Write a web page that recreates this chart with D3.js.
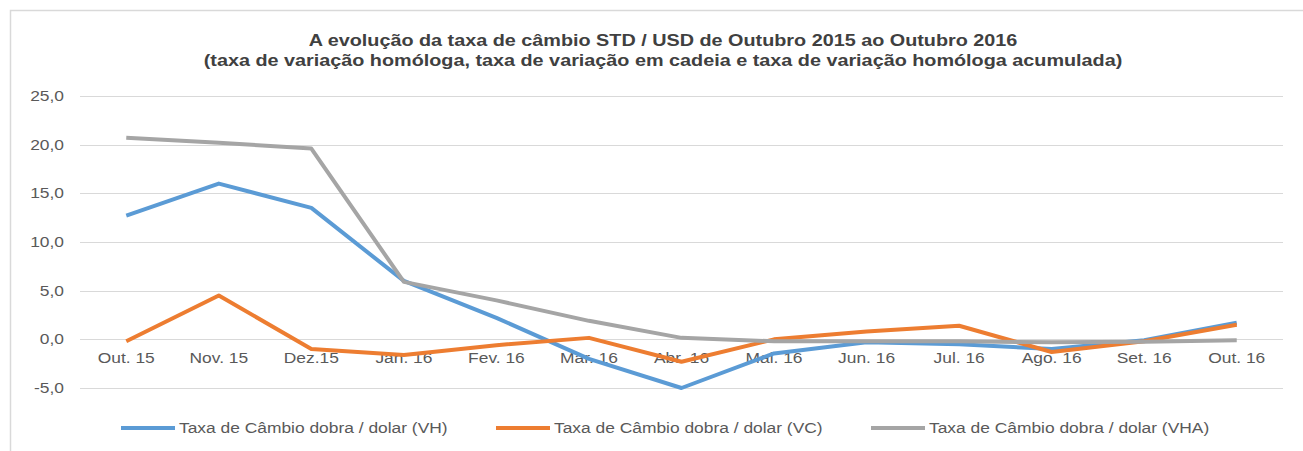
<!DOCTYPE html>
<meta charset="utf-8">
<style>
body { margin: 0; background: #fff; }
text { font-family: "Liberation Sans", Arial, sans-serif; }
.grid line { stroke: #d9d9d9; stroke-width: 1; }
.axis text { fill: #595959; font-size: 14.5px; }
.title { fill: #404040; font-size: 16.5px; font-weight: bold; }
.legend text { fill: #595959; font-size: 14.5px; }
</style>
<svg width="1303" height="451"></svg>
<script src="https://cdn.jsdelivr.net/npm/d3@7"></script>
<script>

var categories = ["Out. 15", "Nov. 15", "Dez.15", "Jan. 16", "Fev. 16", "Mar. 16", "Abr. 16",
                  "Mai. 16", "Jun. 16", "Jul. 16", "Ago. 16", "Set. 16", "Out. 16"];

var vh  = [12.7, 16.0, 13.5, 6.0, 2.2, -2.0, -5.0, -1.45, -0.3, -0.5, -1.0, -0.1, 1.7];
var vc  = [-0.2, 4.5, -1.0, -1.6, -0.6, 0.15, -2.3, 0.0, 0.8, 1.4, -1.3, -0.2, 1.5];
var vha = [20.7, 20.2, 19.6, 5.9, 4.0, 1.9, 0.15, -0.2, -0.2, -0.2, -0.3, -0.25, -0.1];

var yTicks = [-5, 0, 5, 10, 15, 20, 25];

var seriesNames = ["Taxa de Câmbio dobra / dolar (VH)",
                   "Taxa de Câmbio dobra / dolar (VC)",
                   "Taxa de Câmbio dobra / dolar (VHA)"];
var seriesColors = ["#5b9bd5", "#ed7d31", "#a5a5a5"];

var series = [vh, vc, vha].map(function(v, i) {
  return { name: seriesNames[i], color: seriesColors[i], values: v };
});

// the source picture is stretched sideways a bit
var stretch = "scale(1.2,1)";

var svg = d3.select("svg");

// outer frame
svg.append("rect")
    .attr("x", 10.5).attr("y", 10.5)
    .attr("width", 1320).attr("height", 460)
    .attr("fill", "none")
    .attr("stroke", "#d9d9d9")
    .attr("stroke-width", 1.5);

var plot = {left: 80, right: 1283, top: 96, bottom: 388};

var x = d3.scaleBand().domain(categories).range([plot.left, plot.right]);
var y = d3.scaleLinear().domain([-5, 25]).range([plot.bottom, plot.top]);

svg.append("g")
    .attr("class", "grid")
  .selectAll("line")
  .data(yTicks)
  .enter().append("line")
    .attr("x1", plot.left).attr("x2", plot.right)
    .attr("y1", function(d) { return Math.round(y(d)) + 0.5; })
    .attr("y2", function(d) { return Math.round(y(d)) + 0.5; });

var fmt = function(d) { return d3.format(".1f")(d).replace(".", ",").replace("−", "-"); };

svg.append("g")
    .attr("class", "axis")
    .attr("transform", "translate(" + (plot.left - 16) + ",0)")
    .call(d3.axisLeft(y).tickValues(yTicks).tickFormat(fmt).tickSize(0))
    .call(function(g) { g.select(".domain").remove(); })
    .selectAll("text").attr("x", 0).attr("transform", stretch);

svg.append("g")
    .attr("class", "axis")
    .attr("transform", "translate(0," + y(0) + ")")
    .call(d3.axisBottom(x).tickSize(0))
    .call(function(g) { g.select(".domain").remove(); })
    .selectAll("text").attr("y", 13).attr("dy", "0.71em").attr("transform", stretch);

var line = d3.line()
    .x(function(d, i) { return x(categories[i]) + x.bandwidth() / 2; })
    .y(function(d) { return y(d); });

svg.append("g").selectAll("path")
  .data(series)
  .enter().append("path")
    .attr("fill", "none")
    .attr("stroke", function(d) { return d.color; })
    .attr("stroke-width", 4)
    .attr("stroke-linejoin", "round")
    .attr("d", function(d) { return line(d.values); });

// title
var title = svg.append("g")
    .attr("transform", "translate(663,0) " + stretch)
  .append("text")
    .attr("class", "title")
    .attr("text-anchor", "middle");
title.append("tspan").attr("x", 0).attr("y", 46)
    .text("A evolução da taxa de câmbio STD / USD de Outubro 2015 ao Outubro 2016");
title.append("tspan").attr("x", 0).attr("y", 66)
    .text("(taxa de variação homóloga, taxa de variação em cadeia e taxa de variação homóloga acumulada)");

// legend
var legendX = [121, 496, 871];
var legend = svg.append("g").attr("class", "legend")
  .selectAll("g")
  .data(series)
  .enter().append("g")
    .attr("transform", function(d, i) { return "translate(" + legendX[i] + ",428)"; });

legend.append("line")
    .attr("x1", 0).attr("x2", 54)
    .attr("stroke", function(d) { return d.color; })
    .attr("stroke-width", 4);

legend.append("g")
    .attr("transform", "translate(58,0) " + stretch)
  .append("text")
    .attr("dy", "0.35em")
    .text(function(d) { return d.name; });

</script>
